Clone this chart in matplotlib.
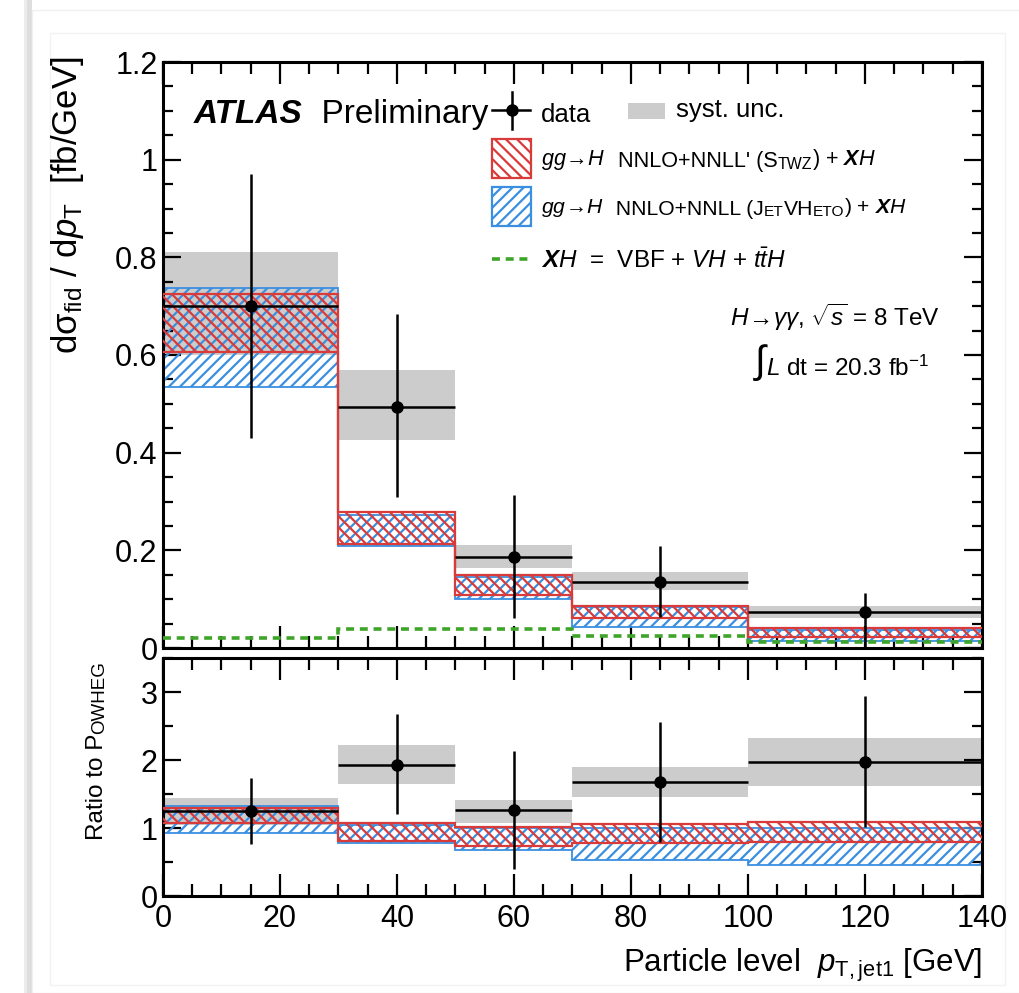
import numpy as np
import matplotlib
matplotlib.use("Agg")
import matplotlib.pyplot as plt
from matplotlib.patches import Rectangle
from matplotlib.lines import Line2D

plt.rcParams['font.family'] = ['Liberation Sans', 'DejaVu Sans']
plt.rcParams['mathtext.fontset'] = 'custom'
plt.rcParams['mathtext.rm'] = 'Liberation Sans'
plt.rcParams['mathtext.it'] = 'Liberation Sans:italic'
plt.rcParams['mathtext.bf'] = 'Liberation Sans:bold'
plt.rcParams['mathtext.bfit'] = 'Liberation Sans:italic:bold'
plt.rcParams['mathtext.sf'] = 'Liberation Sans'
plt.rcParams['hatch.linewidth'] = 1.6

# ---------------- data ----------------
bin_edges = [0, 30, 50, 70, 100, 140]
bin_centers = [15, 40, 60, 85, 120]

data_xsec = [0.70, 0.493, 0.187, 0.136, 0.0745]
data_stat_hi = [0.97, 0.683, 0.314, 0.208, 0.113]
data_stat_lo = [0.43, 0.31, 0.061, 0.064, 0.003]
syst_hi = [0.81, 0.57, 0.211, 0.155, 0.086]
syst_lo = [0.60, 0.425, 0.164, 0.119, 0.061]

stwz_hi = [0.724, 0.279, 0.150, 0.085, 0.041]
stwz_lo = [0.607, 0.212, 0.109, 0.061, 0.023]
jvh_hi = [0.738, 0.273, 0.146, 0.084, 0.037]
jvh_lo = [0.535, 0.208, 0.101, 0.044, 0.015]
xh_vals = [0.020, 0.039, 0.039, 0.025, 0.013]

ratio_data = [1.25, 1.93, 1.26, 1.67, 1.97]
ratio_stat_hi = [1.74, 2.68, 2.13, 2.56, 2.94]
ratio_stat_lo = [0.76, 1.20, 0.40, 0.80, 1.02]
ratio_syst_hi = [1.445, 2.22, 1.41, 1.90, 2.33]
ratio_syst_lo = [1.05, 1.65, 1.07, 1.45, 1.62]
ratio_stwz_hi = [1.29, 1.07, 1.02, 1.06, 1.09]
ratio_stwz_lo = [1.08, 0.81, 0.73, 0.78, 0.80]
ratio_jvh_hi = [1.33, 1.05, 1.00, 1.00, 1.00]
ratio_jvh_lo = [0.93, 0.78, 0.68, 0.53, 0.45]

main_yticks = [0, 0.2, 0.4, 0.6, 0.8, 1.0, 1.2]
main_yticklabels = ['0', '0.2', '0.4', '0.6', '0.8', '1', '1.2']
ratio_yticks = [0, 1, 2, 3]
xticks = [0, 20, 40, 60, 80, 100, 120, 140]

RED = '#d93a3a'
BLUE = '#3a8fe0'
GRAY = '#cccccc'
GREEN = '#3fa52a'

W, H = 1020, 993
fig = plt.figure(figsize=(W / 100, H / 100), dpi=100)
fig.patch.set_facecolor('white')


def fx(px):
    return px / W


def fy(py):
    return 1 - py / H


# slide-like frame decorations
fig.patches.append(Rectangle((fx(24), 0), fx(3), 1, transform=fig.transFigure,
                             facecolor='#ececec', edgecolor='none', zorder=-6))
fig.patches.append(Rectangle((fx(27), 0), fx(5), 1, transform=fig.transFigure,
                             facecolor='#dedede', edgecolor='none', zorder=-5))
fig.patches.append(Rectangle((fx(32), 0), fx(W - 32), fy(10), transform=fig.transFigure,
                             facecolor='white', edgecolor='#f0f0f0', lw=1, zorder=-4))
fig.patches.append(Rectangle((fx(50), fy(985)), fx(1005 - 50), fy(33) - fy(985), transform=fig.transFigure,
                             facecolor='white', edgecolor='#f2f2f2', lw=1, zorder=-3))

ax = fig.add_axes([fx(163), fy(648), fx(982 - 163), fy(62) - fy(648)])
axr = fig.add_axes([fx(163), fy(896), fx(982 - 163), fy(658) - fy(896)])

edges = np.array(bin_edges, dtype=float)
lefts = edges[:-1]
widths = np.diff(edges)
centers = np.array(bin_centers, dtype=float)


def draw_panel(a, val, shi, slo, syh, syl, rh, rl, bh, bl, xh=None):
    val = np.array(val)
    syh = np.array(syh); syl = np.array(syl)
    a.bar(lefts, syh - syl, bottom=syl, width=widths, align='edge',
          color=GRAY, edgecolor='none', zorder=1)
    bh = np.array(bh); bl = np.array(bl)
    rh = np.array(rh); rl = np.array(rl)
    a.bar(lefts, bh - bl, bottom=bl, width=widths, align='edge', fill=False,
          hatch='///', edgecolor=BLUE, linewidth=0, zorder=2)
    a.stairs(bh, edges, color=BLUE, lw=1.3, zorder=2.5, baseline=None)
    a.stairs(bl, edges, color=BLUE, lw=1.3, zorder=2.5, baseline=None)
    a.bar(lefts, rh - rl, bottom=rl, width=widths, align='edge', fill=False,
          hatch='\\\\\\', edgecolor=RED, linewidth=0, zorder=3)
    a.stairs(rh, edges, color=RED, lw=1.6, zorder=3.5, baseline=None)
    a.stairs(rl, edges, color=RED, lw=1.6, zorder=3.5, baseline=None)
    if xh is not None:
        a.stairs(xh, edges, color=GREEN, lw=2.6, ls=(0, (2.2, 1.6)), zorder=4, baseline=None)
    yerr = np.vstack([val - np.array(slo), np.array(shi) - val])
    xerr = widths / 2
    a.errorbar(centers, val, yerr=yerr, xerr=xerr, fmt='o', color='black',
               ms=8, elinewidth=1.8, capsize=0, zorder=6)


draw_panel(ax, data_xsec, data_stat_hi, data_stat_lo, syst_hi, syst_lo,
           stwz_hi, stwz_lo, jvh_hi, jvh_lo, xh=xh_vals)
draw_panel(axr, ratio_data, ratio_stat_hi, ratio_stat_lo, ratio_syst_hi, ratio_syst_lo,
           ratio_stwz_hi, ratio_stwz_lo, ratio_jvh_hi, ratio_jvh_lo)

ax.set_xlim(0, 140)
ax.set_ylim(0, 1.2)
axr.set_xlim(0, 140)
axr.set_ylim(0, 3.5)

for a in (ax, axr):
    for s in a.spines.values():
        s.set_linewidth(2.2)
    a.set_xticks(xticks)
    a.set_xticks(np.arange(0, 141, 5), minor=True)
    a.tick_params(axis='x', which='major', direction='in', length=16, width=1.6,
                  top=True, bottom=True, labelsize=22, pad=6)
    a.tick_params(axis='x', which='minor', direction='in', length=8.5, width=1.6,
                  top=True, bottom=True)
    a.tick_params(axis='y', which='major', direction='in', length=13, width=1.6,
                  left=True, right=True, labelsize=22, pad=4)
    a.tick_params(axis='y', which='minor', direction='in', length=7, width=1.6,
                  left=True, right=True)

ax.set_yticks(main_yticks)
ax.set_yticklabels(main_yticklabels)
ax.set_yticks(np.arange(0, 1.201, 0.05), minor=True)
ax.tick_params(axis='x', labelbottom=False)
axr.set_yticks(ratio_yticks)
axr.set_yticks(np.arange(0, 3.51, 0.5), minor=True)
axr.set_xticklabels([str(t) for t in xticks])

# axis titles
fig.text(fx(68), fy(56), r'dσ$_{\mathrm{fid}}$ / d$p_{\mathrm{T}}$  [fb/GeV]',
         rotation=90, ha='center', va='top', fontsize=25)
t1 = fig.text(fx(108), fy(840), 'Ratio to P', rotation=90, ha='right', va='bottom', fontsize=17.5)
axr.annotate('OWHEG', xy=(1.0, 1.0), xycoords=t1, rotation=90,
             ha='right', va='bottom', fontsize=13.5)
fig.text(fx(982), fy(972), r'Particle level  $p_{\mathrm{T,jet1}}$ [GeV]',
         ha='right', va='baseline', fontsize=22.5)


def ax_xy(px, py):
    return (px - 163) / (982 - 163), (648 - py) / (648 - 62)


def chain(x_px, y_px, pieces):
    x, y = ax_xy(x_px, y_px)
    prev = ax.text(x, y, pieces[0][0], transform=ax.transAxes, va='baseline',
                   ha='left', **pieces[0][1])
    for s, kw in pieces[1:]:
        prev = ax.annotate(s, xy=(1, 0), xycoords=prev, va='bottom', ha='left', **kw)
    return prev


# ATLAS label
chain(194, 123, [('ATLAS', dict(fontsize=24, fontweight='bold', fontstyle='italic')),
                 ('  Preliminary', dict(fontsize=24))])

# legend: data
x0, y0 = ax_xy(492, 110)
x1, _ = ax_xy(530, 110)
xc, yc = ax_xy(512, 110)
_, yt = ax_xy(512, 92)
_, yb = ax_xy(512, 129)
ax.add_line(Line2D([x0, x1], [y0, y0], transform=ax.transAxes, color='black', lw=1.8, zorder=7))
ax.add_line(Line2D([xc, xc], [yb, yt], transform=ax.transAxes, color='black', lw=1.8, zorder=7))
ax.add_line(Line2D([xc], [yc], transform=ax.transAxes, marker='o', ms=8, color='black', zorder=7))
chain(541, 122, [('data', dict(fontsize=18.5))])

# legend: syst
bx0, by0 = ax_xy(628, 119)
bx1, by1 = ax_xy(665, 103)
ax.add_patch(Rectangle((bx0, by0), bx1 - bx0, by1 - by0, transform=ax.transAxes,
                       facecolor=GRAY, edgecolor='none', zorder=7))
chain(676, 117, [('syst. unc.', dict(fontsize=18.5))])

# legend: STWZ
bx0, by0 = ax_xy(492, 178)
bx1, by1 = ax_xy(531, 139)
ax.add_patch(Rectangle((bx0, by0), bx1 - bx0, by1 - by0, transform=ax.transAxes,
                       facecolor='none', edgecolor=RED, hatch='\\\\\\', lw=1.6, zorder=7))
chain(541, 165, [(r'$gg\!\rightarrow\!H$', dict(fontsize=15.6)),
                 ("  NNLO+NNLL' (S", dict(fontsize=15.6)),
                 ('TWZ', dict(fontsize=11.4)),
                 (r') + $\mathbfit{X}\mathit{H}$', dict(fontsize=15.6))])

# legend: JetVHeto
bx0, by0 = ax_xy(492, 226)
bx1, by1 = ax_xy(531, 187)
ax.add_patch(Rectangle((bx0, by0), bx1 - bx0, by1 - by0, transform=ax.transAxes,
                       facecolor='none', edgecolor=BLUE, hatch='///', lw=1.6, zorder=7))
chain(541, 213, [(r'$gg\!\rightarrow\!H$', dict(fontsize=15.2)),
                 ('  NNLO+NNLL (J', dict(fontsize=15.2)),
                 ('ET', dict(fontsize=11.1)),
                 ('VH', dict(fontsize=15.2)),
                 ('ETO', dict(fontsize=11.1)),
                 (r') + $\mathbfit{X}\mathit{H}$', dict(fontsize=15.2))])

# legend: XH
lx0, ly = ax_xy(492, 259)
lx1, _ = ax_xy(530, 259)
ax.add_line(Line2D([lx0, lx1], [ly, ly], transform=ax.transAxes, color=GREEN, lw=2.6,
                   ls=(0, (2.2, 1.6)), zorder=7))
chain(541, 268, [(r'$\mathbfit{X}\mathit{H}$  =  VBF + $\mathit{VH}$ + $\mathit{t\bar{t}H}$',
                  dict(fontsize=17.5))])

# energy / lumi
tx, ty = ax_xy(940, 326)
ax.text(tx, ty, r'$H\!\rightarrow\!\gamma\gamma$, $\sqrt{s}$ = 8 TeV', transform=ax.transAxes,
        ha='right', va='baseline', fontsize=17.5)
chain(755, 373, [('∫', dict(fontsize=28)),
                 (r'$L$ dt = 20.3 fb$^{\mathregular{-1}}$', dict(fontsize=17.5))])

fig.savefig('out.png', dpi=100, facecolor='white')
